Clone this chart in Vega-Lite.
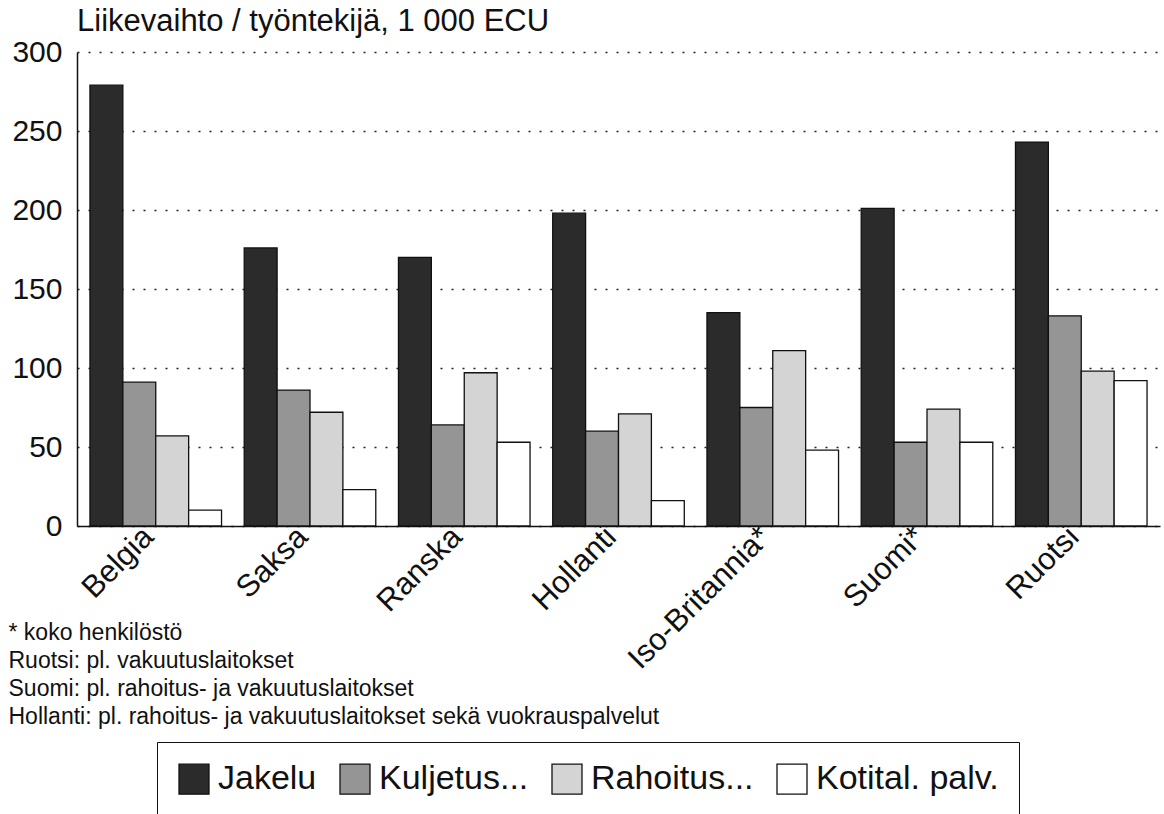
{
  "$schema": "https://vega.github.io/schema/vega-lite/v6.json",
  "autosize": {"type": "none"},
  "width": 1083,
  "height": 474,
  "padding": {"left": 77, "top": 52, "right": 4, "bottom": 288},
  "background": "white",
  "title": {
    "text": "Liikevaihto / työntekijä, 1 000 ECU",
    "anchor": "start",
    "frame": "group",
    "fontSize": 31,
    "fontWeight": "normal",
    "font": "Liberation Sans",
    "color": "#111",
    "offset": -1
  },
  "data": {
    "values": [
      {"maa": "Belgia", "ala": "Jakelu", "arvo": 279},
      {"maa": "Belgia", "ala": "Kuljetus...", "arvo": 91},
      {"maa": "Belgia", "ala": "Rahoitus...", "arvo": 57},
      {"maa": "Belgia", "ala": "Kotital. palv.", "arvo": 10},
      {"maa": "Saksa", "ala": "Jakelu", "arvo": 176},
      {"maa": "Saksa", "ala": "Kuljetus...", "arvo": 86},
      {"maa": "Saksa", "ala": "Rahoitus...", "arvo": 72},
      {"maa": "Saksa", "ala": "Kotital. palv.", "arvo": 23},
      {"maa": "Ranska", "ala": "Jakelu", "arvo": 170},
      {"maa": "Ranska", "ala": "Kuljetus...", "arvo": 64},
      {"maa": "Ranska", "ala": "Rahoitus...", "arvo": 97},
      {"maa": "Ranska", "ala": "Kotital. palv.", "arvo": 53},
      {"maa": "Hollanti", "ala": "Jakelu", "arvo": 198},
      {"maa": "Hollanti", "ala": "Kuljetus...", "arvo": 60},
      {"maa": "Hollanti", "ala": "Rahoitus...", "arvo": 71},
      {"maa": "Hollanti", "ala": "Kotital. palv.", "arvo": 16},
      {"maa": "Iso-Britannia*", "ala": "Jakelu", "arvo": 135},
      {"maa": "Iso-Britannia*", "ala": "Kuljetus...", "arvo": 75},
      {"maa": "Iso-Britannia*", "ala": "Rahoitus...", "arvo": 111},
      {"maa": "Iso-Britannia*", "ala": "Kotital. palv.", "arvo": 48},
      {"maa": "Suomi*", "ala": "Jakelu", "arvo": 201},
      {"maa": "Suomi*", "ala": "Kuljetus...", "arvo": 53},
      {"maa": "Suomi*", "ala": "Rahoitus...", "arvo": 74},
      {"maa": "Suomi*", "ala": "Kotital. palv.", "arvo": 53},
      {"maa": "Ruotsi", "ala": "Jakelu", "arvo": 243},
      {"maa": "Ruotsi", "ala": "Kuljetus...", "arvo": 133},
      {"maa": "Ruotsi", "ala": "Rahoitus...", "arvo": 98},
      {"maa": "Ruotsi", "ala": "Kotital. palv.", "arvo": 92}
    ]
  },
  "mark": {"type": "bar", "stroke": "#111", "strokeWidth": 1.3},
  "encoding": {
    "x": {
      "field": "maa",
      "type": "nominal",
      "sort": null,
      "scale": {"paddingInner": 0.147, "paddingOuter": 0.084},
      "axis": {
        "title": [
          "* koko henkilöstö",
          "Ruotsi: pl. vakuutuslaitokset",
          "Suomi: pl. rahoitus- ja vakuutuslaitokset",
          "Hollanti: pl. rahoitus- ja vakuutuslaitokset sekä vuokrauspalvelut"
        ],
        "titleFont": "Liberation Sans",
        "titleFontSize": 23,
        "titleFontWeight": "normal",
        "titleColor": "#111",
        "titleLineHeight": 28,
        "titleAlign": "left",
        "titleAnchor": "start",
        "titleBaseline": "top",
        "titleX": -69,
        "titleY": 95,
        "labelAngle": -45,
        "labelAlign": "right",
        "labelBaseline": "middle",
        "labelPadding": 6,
        "labelOffset": -7,
        "labelFont": "Liberation Sans",
        "labelFontSize": 31,
        "labelColor": "#111",
        "labelLimit": 400,
        "ticks": false,
        "domainColor": "#111",
        "domainWidth": 1.5,
        "grid": false
      }
    },
    "xOffset": {
      "field": "ala",
      "type": "nominal",
      "sort": ["Jakelu", "Kuljetus...", "Rahoitus...", "Kotital. palv."],
      "scale": {"paddingInner": 0, "paddingOuter": 0}
    },
    "y": {
      "field": "arvo",
      "type": "quantitative",
      "scale": {"domain": [0, 300], "nice": false},
      "axis": {
        "title": null,
        "values": [0, 50, 100, 150, 200, 250, 300],
        "labelFont": "Liberation Sans",
        "labelFontSize": 30,
        "labelColor": "#111",
        "labelPadding": 15,
        "ticks": false,
        "domainColor": "#111",
        "domainWidth": 1.5,
        "grid": true,
        "gridColor": "#222",
        "gridDash": [2, 9],
        "gridWidth": 1.5
      }
    },
    "color": {
      "field": "ala",
      "type": "nominal",
      "scale": {
        "domain": ["Jakelu", "Kuljetus...", "Rahoitus...", "Kotital. palv."],
        "range": ["#2b2b2b", "#959595", "#d4d4d4", "#ffffff"]
      },
      "legend": {
        "title": null,
        "orient": "none",
        "legendX": 80,
        "legendY": 690,
        "direction": "horizontal",
        "strokeColor": "#111",
        "fillColor": "white",
        "padding": 20,
        "symbolType": "square",
        "symbolSize": 900,
        "symbolStrokeColor": "#111",
        "symbolStrokeWidth": 1.3,
        "symbolOpacity": 1,
        "labelFont": "Liberation Sans",
        "labelFontSize": 34,
        "labelColor": "#111",
        "labelLimit": 400,
        "labelOffset": 7,
        "columnPadding": 20
      }
    }
  },
  "config": {
    "view": {"stroke": null},
    "axis": {"domain": true}
  }
}
